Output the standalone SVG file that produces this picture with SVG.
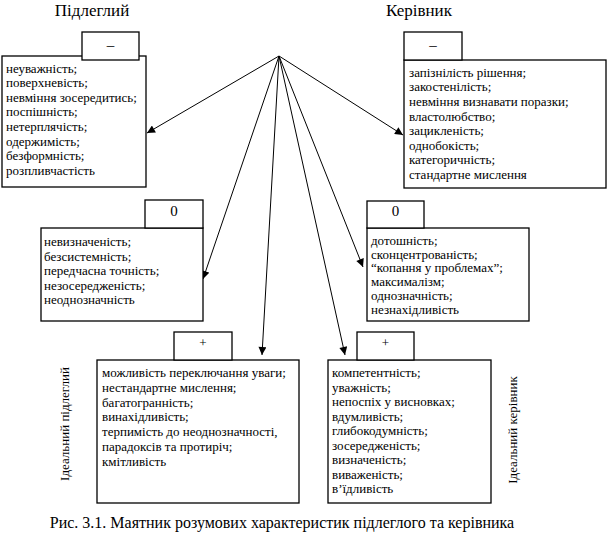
<svg xmlns="http://www.w3.org/2000/svg" width="609" height="538" viewBox="0 0 609 538">
<defs>
<style>
.box{fill:#fff;stroke:#000;stroke-width:1.3}
.t{font-size:13px;fill:#000}
.sym{font-size:15px;fill:#000;text-anchor:middle}
.title{font-size:17px;fill:#000;text-anchor:middle}
.cap{font-size:16px;fill:#000;text-anchor:middle}
.ln{stroke:#000;stroke-width:1;fill:none;marker-end:url(#ah)}
</style>
<marker id="ah" viewBox="0 0 10 10" refX="10" refY="5" markerWidth="9" markerHeight="8" markerUnits="userSpaceOnUse" orient="auto">
<path d="M0,0 L10,5 L0,10 z" fill="#000"/>
</marker>
</defs>
<rect width="609" height="538" fill="#fff"/>
<g font-family="Liberation Serif, 'Times New Roman', serif">
<text class="title" x="92" y="16">Підлеглий</text>
<text class="title" x="419" y="16">Керівник</text>

<g id="connectors">
<line class="ln" x1="279" y1="56" x2="147" y2="133"/>
<line class="ln" x1="279" y1="56" x2="403" y2="135"/>
<line class="ln" x1="279" y1="56" x2="203" y2="279"/>
<line class="ln" x1="279" y1="56" x2="363" y2="267"/>
<line class="ln" x1="279" y1="56" x2="262" y2="355"/>
<line class="ln" x1="279" y1="56" x2="345" y2="355"/>
</g>

<g id="sub-minus">
<rect class="box" x="2" y="56" width="144" height="131"/>
<rect class="box" x="82" y="32" width="57" height="28"/>
<text class="sym" x="110.5" y="50">–</text>
<text class="t" x="6" y="72.5">
<tspan x="6" dy="0">неуважність;</tspan>
<tspan x="6" dy="14.6">поверхневість;</tspan>
<tspan x="6" dy="14.6">невміння зосередитись;</tspan>
<tspan x="6" dy="14.6">поспішність;</tspan>
<tspan x="6" dy="14.6">нетерплячість;</tspan>
<tspan x="6" dy="14.6">одержимість;</tspan>
<tspan x="6" dy="14.6">безформність;</tspan>
<tspan x="6" dy="14.6">розпливчастість</tspan>
</text>
</g>

<g id="boss-minus">
<rect class="box" x="404" y="60" width="202" height="128"/>
<rect class="box" x="404" y="32" width="58" height="28"/>
<text class="sym" x="433" y="50">–</text>
<text class="t" x="409" y="76.7">
<tspan x="409" dy="0">запізнілість рішення;</tspan>
<tspan x="409" dy="14.6">закостенілість;</tspan>
<tspan x="409" dy="14.6">невміння визнавати поразки;</tspan>
<tspan x="409" dy="14.6">властолюбство;</tspan>
<tspan x="409" dy="14.6">зацикленість;</tspan>
<tspan x="409" dy="14.6">однобокість;</tspan>
<tspan x="409" dy="14.6">категоричність;</tspan>
<tspan x="409" dy="14.6">стандартне мислення</tspan>
</text>
</g>

<g id="sub-zero">
<rect class="box" x="41" y="228" width="162" height="93"/>
<rect class="box" x="145" y="200" width="58" height="28"/>
<text class="sym" x="174" y="216">0</text>
<text class="t" x="44" y="246">
<tspan x="44" dy="0">невизначеність;</tspan>
<tspan x="44" dy="14.5">безсистемність;</tspan>
<tspan x="44" dy="14.5">передчасна точність;</tspan>
<tspan x="44" dy="14.5">незосередженість;</tspan>
<tspan x="44" dy="14.5">неоднозначність</tspan>
</text>
</g>

<g id="boss-zero">
<rect class="box" x="367" y="228" width="162" height="93"/>
<rect class="box" x="367" y="201" width="57" height="27"/>
<text class="sym" x="395.5" y="216">0</text>
<text class="t" x="371" y="245">
<tspan x="371" dy="0">дотошність;</tspan>
<tspan x="371" dy="13.7">сконцентрованість;</tspan>
<tspan x="371" dy="13.7">“копання у проблемах”;</tspan>
<tspan x="371" dy="13.7">максималізм;</tspan>
<tspan x="371" dy="13.7">однозначність;</tspan>
<tspan x="371" dy="13.7">незнахідливість</tspan>
</text>
</g>

<g id="sub-plus">
<rect class="box" x="97" y="360" width="202" height="143"/>
<rect class="box" x="174" y="332" width="58" height="28"/>
<text class="sym" x="203" y="347" style="font-size:13px">+</text>
<text class="t" x="102" y="377">
<tspan x="102" dy="0">можливість переключання уваги;</tspan>
<tspan x="102" dy="14.8">нестандартне мислення;</tspan>
<tspan x="102" dy="14.8">багатогранність;</tspan>
<tspan x="102" dy="14.8">винахідливість;</tspan>
<tspan x="102" dy="14.8">терпимість до неоднозначності,</tspan>
<tspan x="102" dy="14.8">парадоксів та протиріч;</tspan>
<tspan x="102" dy="14.8">кмітливість</tspan>
</text>
</g>

<g id="boss-plus">
<rect class="box" x="328" y="360" width="163" height="143"/>
<rect class="box" x="357" y="332" width="57" height="28"/>
<text class="sym" x="385.5" y="347" style="font-size:13px">+</text>
<text class="t" x="332" y="377">
<tspan x="332" dy="0">компетентність;</tspan>
<tspan x="332" dy="14.5">уважність;</tspan>
<tspan x="332" dy="14.5">непоспіх у висновках;</tspan>
<tspan x="332" dy="14.5">вдумливість;</tspan>
<tspan x="332" dy="14.5">глибокодумність;</tspan>
<tspan x="332" dy="14.5">зосередженість;</tspan>
<tspan x="332" dy="14.5">визначеність;</tspan>
<tspan x="332" dy="14.5">виваженість;</tspan>
<tspan x="332" dy="14.5">в’їдливість</tspan>
</text>
</g>

<text class="t" transform="translate(69,424) rotate(-90)" text-anchor="middle">Ідеальний підлеглий</text>
<text class="t" transform="translate(517,430) rotate(-90)" text-anchor="middle">Ідеальний керівник</text>

<text class="cap" x="282" y="528">Рис. 3.1. Маятник розумових характеристик підлеглого та керівника</text>
</g>
</svg>
